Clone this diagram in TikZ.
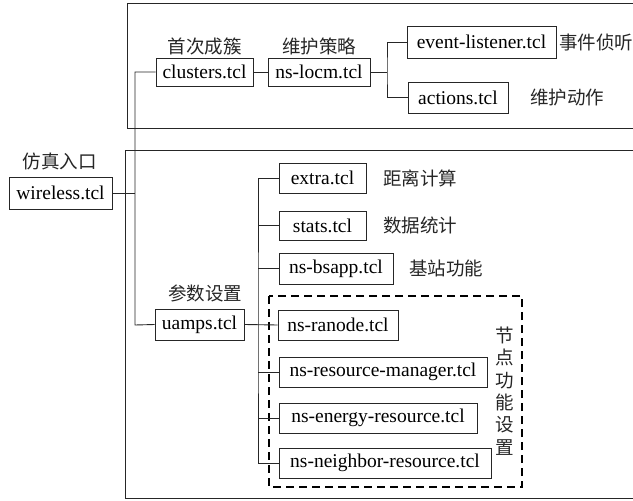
\documentclass[tikz,border=0pt]{standalone}
\usepackage{fontspec}
\setmainfont{Liberation Serif}
\newfontfamily\cjk{Noto Sans CJK SC}
\begin{document}
\begin{tikzpicture}[x=1pt,y=-1pt,
  box/.style={draw=black!85,line width=0.9pt,inner sep=0pt,minimum height=30pt,font=\fontsize{19.5}{21}\selectfont},
  lab/.style={inner sep=0pt,font=\cjk\fontsize{18.5}{20}\selectfont,text=black!85},
  conn/.style={draw=black!85,line width=0.9pt},
  frame/.style={draw=black!85,line width=1pt}]
\useasboundingbox (0,0) rectangle (633,501);
\clip (0,0) rectangle (633,501);
% frames
\draw[frame] (634,3) -- (127,3) -- (127,128) -- (634,128);
\draw[frame] (634,150) -- (125,150) -- (125,498) -- (634,498);
% dashed group
\draw[draw=black,line width=2pt,dash pattern=on 8pt off 5pt] (269,296) rectangle (522,487);
% nodes
\node[box,minimum width=103pt,minimum height=32pt] (wireless) at (60.5,193) {wireless.tcl};
\node[box,minimum width=97pt,minimum height=28pt] (clusters) at (204.5,72) {clusters.tcl};
\node[box,minimum width=102pt,minimum height=28pt] (locm) at (319,72) {ns-locm.tcl};
\node[box,minimum width=149pt,minimum height=32pt] (event) at (481.5,42) {event-listener.tcl};
\node[box,minimum width=100pt,minimum height=31pt] (actions) at (458,97.5) {actions.tcl};
\node[box,minimum width=87pt] (extra) at (322.5,178) {extra.tcl};
\node[box,minimum width=87pt,minimum height=29pt] (stats) at (322.5,225.5) {stats.tcl};
\node[box,minimum width=114pt,minimum height=31pt] (bsapp) at (336,268.5) {ns-bsapp.tcl};
\node[box,minimum width=89pt,minimum height=31pt] (uamps) at (199.5,324.5) {uamps.tcl};
\node[box,minimum width=120pt] (ranode) at (338,325) {ns-ranode.tcl};
\node[box,minimum width=208pt] (manager) at (383,372) {ns-resource-manager.tcl};
\node[box,minimum width=198pt] (energy) at (378,418) {ns-energy-resource.tcl};
\node[box,minimum width=212pt] (neighbor) at (385,463) {ns-neighbor-resource.tcl};
% labels
\node[lab] (l1) at (60,161) {仿真入口};
\node[lab] (l2) at (204.5,46) {首次成簇};
\node[lab] (l3) at (319,46) {维护策略};
\node[lab,anchor=west] (l4) at (559,42) {事件侦听};
\node[lab] (l5) at (567,97) {维护动作};
\node[lab] (l6) at (420,178) {距离计算};
\node[lab] (l7) at (420,225) {数据统计};
\node[lab] (l8) at (446,268) {基站功能};
\node[lab] (l9) at (205,293) {参数设置};
\node[lab,align=center,font=\cjk\fontsize{18.5}{22.4}\selectfont] (l10) at (505,391) {节\\点\\功\\能\\设\\置};
% connectors
\coordinate (t1) at (135,72);
\coordinate (t2) at (135,325);
\coordinate (b) at (387,72);
\coordinate (c) at (258,325);
\draw[conn] (clusters.west) -- (t1) -- (t2) -- (uamps.west);
\draw[conn] (wireless.east) -- (wireless.east -| t1);
\draw[conn] (clusters.east) -- (locm.west);
\draw[conn] (locm.east) -- (b);
\draw[conn] (event.west) -| (b) |- (actions.west);
\draw[conn] (extra.west) -| (c) |- (neighbor.west);
\draw[conn] (uamps.east) -- (ranode.west);
\draw[conn] (stats.west) -- (stats.west -| c);
\draw[conn] (bsapp.west) -- (bsapp.west -| c);
\draw[conn] (manager.west) -- (manager.west -| c);
\draw[conn] (energy.west) -- (energy.west -| c);
\end{tikzpicture}
\end{document}
